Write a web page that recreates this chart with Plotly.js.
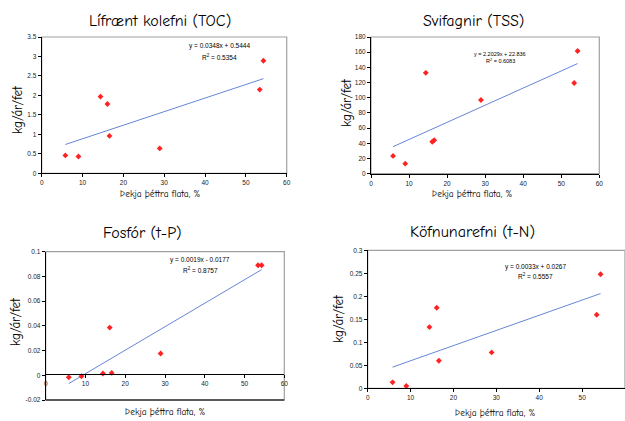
<!DOCTYPE html>
<html><head><meta charset="utf-8">
<script src="https://cdn.plot.ly/plotly-3.0.1.min.js"></script>
<style>html,body{margin:0;padding:0;background:#fff}#chart{width:625px;height:421px}</style>
</head><body><div id="chart"></div>
<script>
// ---- data ----
const pctImpervious = [5.8, 9.0, 14.4, 16.1, 16.6, 28.9, 53.4, 54.3];
const tocLoad = [0.46, 0.43, 1.97, 1.78, 0.96, 0.64, 2.15, 2.89];
const tssLoad = [23.4, 13.2, 132.8, 42.0, 44.0, 97.0, 119.5, 161.5];
const tpLoad  = [-0.0016, -0.0008, 0.0014, 0.0386, 0.0019, 0.0176, 0.089, 0.089];
const tnLoad  = [0.013, 0.005, 0.133, 0.175, 0.060, 0.078, 0.160, 0.248];

const trendX   = [5.8, 54.3];
const tocTrend = [0.74, 2.43];
const tssTrend = [35.6, 145.0];
const tpTrend  = [-0.0067, 0.0855];
const tnTrend  = [0.046, 0.206];

const panelTitles = ["Lífrænt kolefni (TOC)", "Svifagnir (TSS)", "Fosfór (t-P)", "Köfnunarefni (t-N)"];
const yTitle = "kg/ár/fet";
const xTitle = "Þekja þéttra flata, %";
const equations = ["y = 0.0348x + 0.5444", "y = 2.2029x + 22.836", "y = 0.0019x - 0.0177", "y = 0.0033x + 0.0267"];
const rSquared  = ["R<sup>2</sup> = 0.5354", "R<sup>2</sup> = 0.6083", "R<sup>2</sup> = 0.8757", "R<sup>2</sup> = 0.5557"];
const tpTickVals = [-0.02, 0, 0.02, 0.04, 0.06, 0.08, 0.1];
const tpTickText = ["-0.02", "0", "0.02", "0.04", "0.06", "0.08", "0.1"];

// ---- layout helpers ----
const W = 625, H = 421;
const px = v => v / W;
const py = v => 1 - v / H;
const tickFont = {family: "Liberation Sans, Arial, sans-serif", size: 6.5, color: "#222"};
const titleFamily = "Comic Sans MS, Comic Neue, DejaVu Sans, sans-serif";
const markerStyle = {symbol: "diamond", size: 4.5, color: "#ff2222"};
const lineStyle = {color: "#6685d6", width: 1};

const series = [tocLoad, tssLoad, tpLoad, tnLoad];
const trends = [tocTrend, tssTrend, tpTrend, tnTrend];
const data = [];
series.forEach((s, i) => {
  const ax = i === 0 ? "" : String(i + 1);
  data.push({x: trendX, y: trends[i], type: "scatter", mode: "lines", line: lineStyle,
             xaxis: "x" + ax, yaxis: "y" + ax, showlegend: false, hoverinfo: "none"});
  data.push({x: pctImpervious, y: s, type: "scatter", mode: "markers", marker: markerStyle,
             xaxis: "x" + ax, yaxis: "y" + ax, showlegend: false, hoverinfo: "none", cliponaxis: false});
});

function xa(dom, anchor, extra) {
  return Object.assign({domain: dom, anchor: anchor, range: [0, 60], dtick: 10, tick0: 0,
    showgrid: false, zeroline: false, showline: true, linecolor: "#000", linewidth: 1,
    ticks: "outside", ticklen: 3, tickcolor: "#000", tickfont: tickFont, fixedrange: true}, extra || {});
}
function ya(dom, anchor, range, dtick, extra) {
  return Object.assign({domain: dom, anchor: anchor, range: range, dtick: dtick,
    showgrid: false, zeroline: false, showline: true, linecolor: "#000", linewidth: 1,
    ticks: "outside", ticklen: 3, tickcolor: "#000", tickfont: tickFont, fixedrange: true}, extra || {});
}

const d1x = [px(41.7), px(286.7)], d1y = [py(173.3), py(37)];
const d2x = [px(371), px(599.3)],  d2y = [py(173.7), py(37)];
const d3x = [px(45.7), px(284.3)], d3y = [py(400), py(251.7)];
const d4x = [px(367.7), 1],        d4y = [py(388.3), py(250.3)];

const layout = {
  width: W, height: H, margin: {l: 0, r: 0, t: 0, b: 0},
  paper_bgcolor: "#fff", plot_bgcolor: "#fff", showlegend: false,
  xaxis:  xa(d1x, "y"),
  yaxis:  ya(d1y, "x", [0, 3.5], 0.5),
  xaxis2: xa(d2x, "y2"),
  yaxis2: ya(d2y, "x2", [0, 180], 20),
  xaxis3: xa(d3x, "free", {position: py(374.3)}),
  yaxis3: ya(d3y, "x3", [-0.02, 0.1], 0.02, {tickmode: "array", tickvals: tpTickVals, ticktext: tpTickText}),
  xaxis4: xa(d4x, "y4"),
  yaxis4: ya(d4y, "x4", [0, 0.3], 0.05),
  shapes: [],
  annotations: []
};

// gray plot-area frames
[[d1x, d1y], [d2x, d2y], [d3x, d3y], [d4x, d4y]].forEach(([dx, dy]) => {
  layout.shapes.push({type: "rect", xref: "paper", yref: "paper", x0: dx[0], x1: dx[1], y0: dy[0], y1: dy[1],
    line: {color: "#a0a0a0", width: 1.2}, layer: "below"});
});
// dark bottom border of the t-P panel
layout.shapes.push({type: "line", xref: "paper", yref: "paper", x0: d3x[0], x1: d3x[1], y0: d3y[0], y1: d3y[0],
  line: {color: "#333", width: 1.5}, layer: "below"});

function ann(text, x, y, size, family, extra) {
  layout.annotations.push(Object.assign({text: text, xref: "paper", yref: "paper", x: px(x), y: py(y),
    xanchor: "center", yanchor: "middle", showarrow: false,
    font: {family: family, size: size, color: "#000"}}, extra || {}));
}
// panel titles
ann(panelTitles[0], 160, 21, 16, titleFamily);
ann(panelTitles[1], 473, 21, 16, titleFamily);
ann(panelTitles[2], 142, 233, 16, titleFamily);
ann(panelTitles[3], 472, 232, 16, titleFamily);
// y titles
ann(yTitle, 18, 110, 13, titleFamily, {textangle: -90});
ann(yTitle, 346, 103, 13, titleFamily, {textangle: -90});
ann(yTitle, 15, 322, 13, titleFamily, {textangle: -90});
ann(yTitle, 338, 318, 13, titleFamily, {textangle: -90});
// x titles
ann(xTitle, 160, 193, 9.5, titleFamily);
ann(xTitle, 472, 193, 9.5, titleFamily);
ann(xTitle, 165, 411, 9.5, titleFamily, {bgcolor: "#fff", borderpad: 2});
ann(xTitle, 495, 412, 9.5, titleFamily);
// trend equations
const eqFont = "Liberation Sans, Arial, sans-serif";
ann(equations[0], 219, 46, 6.5, eqFont);  ann(rSquared[0], 219, 56.5, 6.5, eqFont);
ann(equations[1], 500, 54, 5.5, eqFont);  ann(rSquared[1], 500, 61.5, 5.5, eqFont);
ann(equations[2], 200, 260, 6.5, eqFont); ann(rSquared[2], 200, 270, 6.5, eqFont);
ann(equations[3], 535, 267, 6.5, eqFont); ann(rSquared[3], 535, 276, 6.5, eqFont);

Plotly.newPlot("chart", data, layout, {staticPlot: true, displayModeBar: false});
</script></body></html>
